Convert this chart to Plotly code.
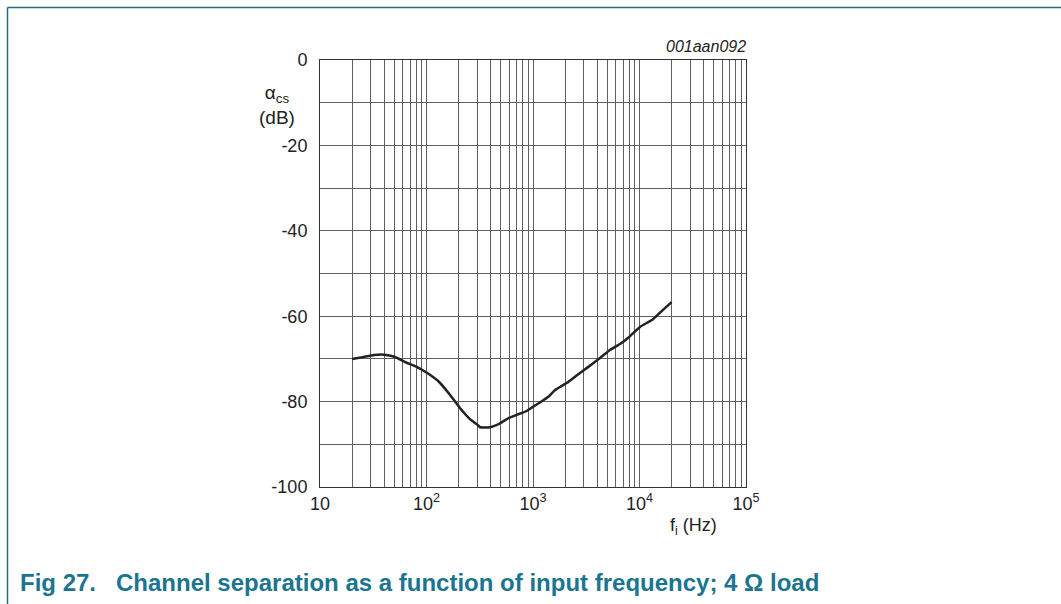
import plotly.graph_objects as go

# Data
freq_hz = [20, 25, 32, 40, 50, 65, 80, 100, 130, 166, 206, 256, 300, 318, 394, 490, 586, 703, 873,
           1000, 1164, 1445, 1611, 2086, 2588, 3214, 4256, 5286, 6565, 7800, 10110, 13400, 16640, 20000]
sep_db = [-70.0, -69.6, -69.1, -69.0, -69.5, -70.9, -71.8, -73.2, -75.3, -78.4, -81.5, -84.1, -85.4, -86.0,
          -86.0, -85.1, -83.9, -83.1, -82.2, -81.2, -80.2, -78.5, -77.3, -75.6, -73.8, -72.1, -69.8, -67.9,
          -66.5, -65.1, -62.5, -60.7, -58.5, -56.7]

decades = [10, 100, 1000, 10000, 100000]
decade_labels = ["10", "10<sup>2</sup>", "10<sup>3</sup>", "10<sup>4</sup>", "10<sup>5</sup>"]
y_ticks = [0, -10, -20, -30, -40, -50, -60, -70, -80, -90, -100]
y_labels = ["0", "", "-20", "", "-40", "", "-60", "", "-80", "", "-100"]

# build log-grid tick positions (all 1..9 multiples) with labels only on decades
x_tickvals, x_ticktext = [], []
for i, d in enumerate(decades):
    x_tickvals.append(d)
    x_ticktext.append(decade_labels[i])
    if d < 100000:
        for m in range(2, 10):
            x_tickvals.append(d * m)
            x_ticktext.append("")

TEAL = "#1b7590"
FONT = "Liberation Sans, Arial, sans-serif"
TXT = "#222222"

fig = go.Figure()
fig.add_trace(go.Scatter(x=freq_hz, y=sep_db, mode="lines",
                         line=dict(color="#222222", width=2.5, shape="spline", smoothing=0.4),
                         showlegend=False, hoverinfo="skip"))

fig.update_layout(
    width=1061, height=604,
    margin=dict(l=320, r=315, t=60, b=117),
    paper_bgcolor="white", plot_bgcolor="white",
    font=dict(family=FONT, size=18, color=TXT),
    xaxis=dict(type="log", range=[1, 5], tickvals=x_tickvals, ticktext=x_ticktext,
               showgrid=True, gridcolor="#606060", gridwidth=1,
               showline=True, linecolor="#333333", linewidth=1, mirror=True,
               ticks="", zeroline=False, tickfont=dict(size=18, family=FONT, color=TXT),
               ticklabelstandoff=0),
    yaxis=dict(range=[-100, 0], tickvals=y_ticks, ticktext=y_labels,
               showgrid=True, gridcolor="#606060", gridwidth=1,
               showline=True, linecolor="#333333", linewidth=1, mirror=True,
               ticks="", zeroline=False, tickfont=dict(size=18, family=FONT, color=TXT),
               ticklabelstandoff=8),
)

ph = 427.0
pw = 426.0

def px_to_paper(px, py):
    return (px - 320) / pw, (487 - py) / ph

# axis titles
ax, ay = px_to_paper(277, 105)
fig.add_annotation(x=ax, y=ay, xref="paper", yref="paper", showarrow=False,
                   text="α<sub>cs</sub><br>(dB)", font=dict(size=19, family=FONT, color=TXT),
                   align="center", xanchor="center", yanchor="middle")
bx, by = px_to_paper(693, 526)
fig.add_annotation(x=bx, y=by, xref="paper", yref="paper", showarrow=False,
                   text="f<sub>i</sub> (Hz)", font=dict(size=18, family=FONT, color=TXT),
                   xanchor="center", yanchor="middle")
cx, cy = px_to_paper(748, 47)
fig.add_annotation(x=cx, y=cy, xref="paper", yref="paper", showarrow=False,
                   text="<i>001aan092</i>", font=dict(size=16, family=FONT, color=TXT),
                   xanchor="right", yanchor="middle")
dx, dy = px_to_paper(18, 582)
fig.add_annotation(x=dx, y=dy, xref="paper", yref="paper", showarrow=False,
                   text="<b>Fig 27.   Channel separation as a function of input frequency; 4 Ω load</b>",
                   font=dict(size=24, family=FONT, color=TEAL),
                   xanchor="left", yanchor="middle")

# frame around figure (top and left edges)
lx0, ty = px_to_paper(7.5, 7.5)
rx, _ = px_to_paper(1061, 7.5)
_, by2 = px_to_paper(7.5, 604)
fig.add_shape(type="line", xref="paper", yref="paper", x0=lx0, x1=rx, y0=ty, y1=ty,
              line=dict(color="#1a6f80", width=1.5))
fig.add_shape(type="line", xref="paper", yref="paper", x0=lx0, x1=lx0, y0=ty, y1=by2,
              line=dict(color="#1a6f80", width=1.5))

fig.write_html("out.html", config={"displayModeBar": False},
               post_script="document.body.style.margin='0';")
